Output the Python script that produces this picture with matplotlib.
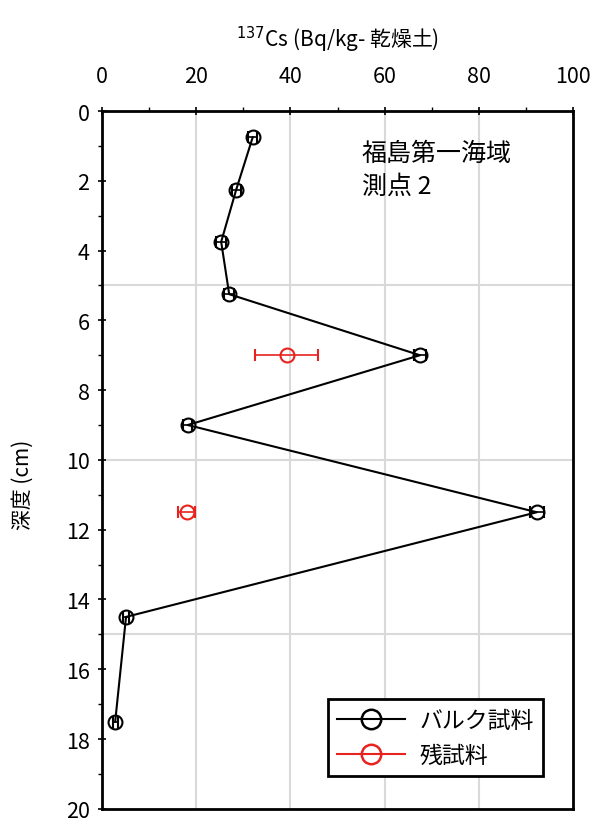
import matplotlib
matplotlib.use('Agg')
import matplotlib.pyplot as plt
from matplotlib.lines import Line2D
import numpy as np

plt.rcParams['font.family'] = ['Noto Sans CJK JP', 'DejaVu Sans']

# バルク試料
bulk_depth = [0.75, 2.25, 3.75, 5.25, 7.0, 9.0, 11.5, 14.5, 17.5]
bulk_cs = [32.0, 28.5, 25.3, 27.0, 67.5, 18.2, 92.3, 5.1, 2.8]
bulk_err = [1.0, 1.0, 1.0, 1.0, 1.2, 1.0, 1.5, 0.6, 0.5]

# 残試料
res_depth = [7.0, 11.5]
res_cs = [39.2, 18.0]
res_err = [6.7, 1.8]

red = '#e8231f'

fig = plt.figure(figsize=(5.92, 8.28), dpi=100)
ax = fig.add_axes([0.1723, 0.022, 0.7957, 0.8427])

ax.errorbar(bulk_cs, bulk_depth, xerr=bulk_err, color='black', lw=1.5,
            marker='o', ms=10, mfc='none', mec='black', mew=1.5,
            capsize=4, elinewidth=1.2, zorder=3)
ax.errorbar(res_cs, res_depth, xerr=res_err, color=red, lw=1.5,
            ls='none', marker='o', ms=10, mfc='none', mec=red, mew=1.5,
            capsize=4, elinewidth=1.2, zorder=3)

ax.set_xlim(0, 100)
ax.set_ylim(20, 0)
ax.xaxis.tick_top()
ax.xaxis.set_label_position('top')
ax.set_xticks(np.arange(0, 101, 20))
ax.set_xticks(np.arange(0, 101, 10), minor=True)
ax.set_yticks(np.arange(0, 21, 2))
ax.set_yticks(np.arange(0, 21, 1), minor=True)
ax.tick_params(axis='both', which='major', labelsize=15.5, length=6, width=1.2, direction='inout')
ax.tick_params(axis='both', which='minor', length=3, width=1.0)
ax.tick_params(axis='x', pad=14)
ax.tick_params(axis='y', pad=6)

for v in [20, 40, 60, 80]:
    ax.axvline(v, color='#d9d9d9', lw=1.5, zorder=0)
for v in [5, 10, 15]:
    ax.axhline(v, color='#d9d9d9', lw=1.5, zorder=0)

for s in ax.spines.values():
    s.set_linewidth(2)

ax.set_xlabel('$^{137}$Cs (Bq/kg- 乾燥土)', fontsize=15, labelpad=14)
ax.set_ylabel('深度 (cm)', fontsize=15)
ax.yaxis.set_label_coords(-0.145, 0.465)

ax.text(0.552, 0.958, '福島第一海域\n測点 2', transform=ax.transAxes,
        fontsize=18, ha='left', va='top', linespacing=1.3)

handles = [Line2D([], [], color='black', lw=1.5, marker='o', ms=14, mfc='none', mew=1.8),
           Line2D([], [], color=red, lw=1.5, marker='o', ms=14, mfc='none', mew=1.8)]
leg = ax.legend(handles, ['バルク試料', '残試料'], loc='lower right',
                bbox_to_anchor=(0.96, 0.03), fontsize=16.5,
                frameon=True, fancybox=False, edgecolor='black', framealpha=1,
                handlelength=3.0, borderpad=0.4, labelspacing=0.55, handletextpad=0.6)
leg.get_frame().set_linewidth(2)

fig.savefig('out.png', dpi=100)
